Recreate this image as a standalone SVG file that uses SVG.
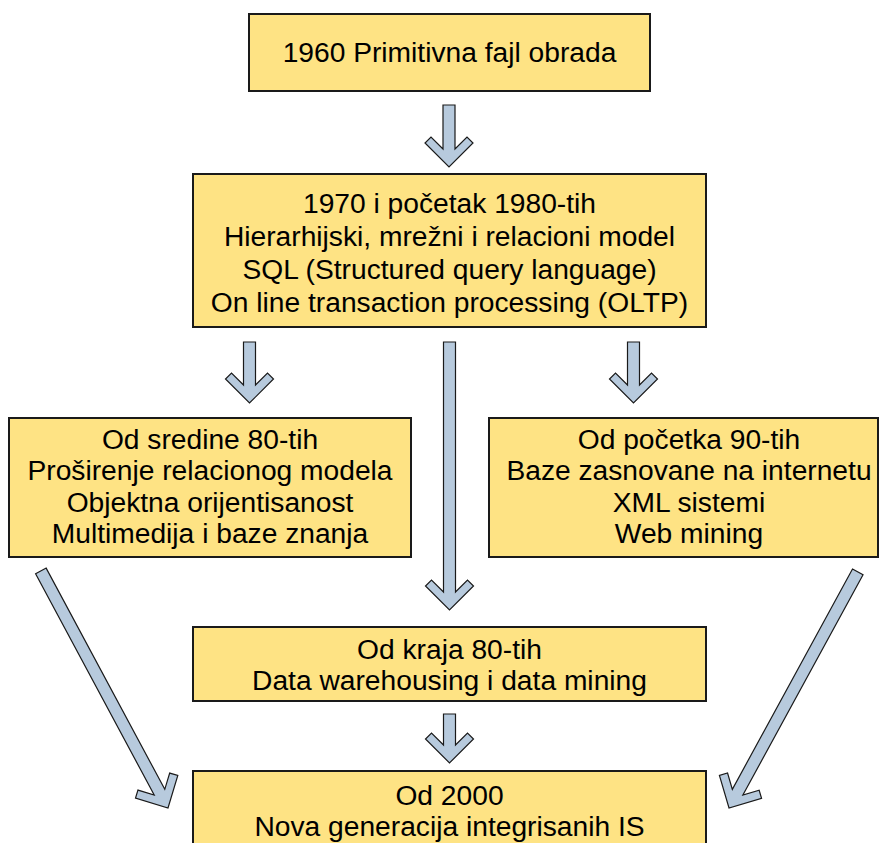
<svg xmlns="http://www.w3.org/2000/svg" width="879" height="843" viewBox="0 0 879 843">
<style>
.box{fill:#FEE384;stroke:#1a1a1a;stroke-width:2}
.t{font-family:"Liberation Sans",Arial,sans-serif;font-size:28.2px;fill:#000;text-anchor:middle}
.arr{fill:#B7CADD;stroke:#1a1a1a;stroke-width:1.2;stroke-linejoin:miter}
</style>
<rect width="879" height="843" fill="#fff"/>
<g id="connectors">
<polygon class="arr" points="443,105 455,105 455,149 467,137 473,143 449,167 425,143 431,137 443,149"/>
<polygon class="arr" points="243.5,342 255.5,342 255.5,385 267.5,373 273.5,379 249.5,403 225.5,379 231.5,373 243.5,385"/>
<polygon class="arr" points="627.5,342 639.5,342 639.5,385 651.5,373 657.5,379 633.5,403 609.5,379 615.5,373 627.5,385"/>
<polygon class="arr" points="443.5,342 455.5,342 455.5,592 467.5,580 473.5,586 449.5,610 425.5,586 431.5,580 443.5,592"/>
<polygon class="arr" points="443.5,714 455.5,714 455.5,745 467.5,733 473.5,739 449.5,763 425.5,739 431.5,733 443.5,745"/>
<polygon class="arr" transform="translate(168,808) rotate(-28.2)" points="-6,-269 6,-269 6,-18 18,-30 24,-24 0,0 -24,-24 -18,-30 -6,-18"/>
<polygon class="arr" transform="translate(729,808) rotate(28.6)" points="-6,-269 6,-269 6,-18 18,-30 24,-24 0,0 -24,-24 -18,-30 -6,-18"/>
</g>
<g id="n1">
<rect class="box" x="249" y="14" width="401" height="77"/>
<text class="t" x="449.5" y="62">1960 Primitivna fajl obrada</text>
</g>
<g id="n2">
<rect class="box" x="193" y="174" width="513" height="153"/>
<text class="t" x="449.5" y="213">1970 i početak 1980-tih</text>
<text class="t" x="449.5" y="246">Hierarhijski, mrežni i relacioni model</text>
<text class="t" x="449.5" y="279">SQL (Structured query language)</text>
<text class="t" x="449.5" y="312">On line transaction processing (OLTP)</text>
</g>
<g id="n3">
<rect class="box" x="9" y="418" width="402" height="139"/>
<text class="t" x="210" y="449">Od sredine 80-tih</text>
<text class="t" x="210" y="480">Proširenje relacionog modela</text>
<text class="t" x="210" y="512">Objektna orijentisanost</text>
<text class="t" x="210" y="543">Multimedija i baze znanja</text>
</g>
<g id="n4">
<rect class="box" x="489" y="418" width="389" height="139"/>
<text class="t" x="689" y="449">Od početka 90-tih</text>
<text class="t" x="689" y="480">Baze zasnovane na internetu</text>
<text class="t" x="689" y="512">XML sistemi</text>
<text class="t" x="689" y="543">Web mining</text>
</g>
<g id="n5">
<rect class="box" x="193" y="627" width="513" height="74"/>
<text class="t" x="449.5" y="659">Od kraja 80-tih</text>
<text class="t" x="449.5" y="690">Data warehousing i data mining</text>
</g>
<g id="n6">
<rect class="box" x="193" y="771" width="513" height="90"/>
<text class="t" x="449.5" y="805">Od 2000</text>
<text class="t" x="449.5" y="836">Nova generacija integrisanih IS</text>
</g>
</svg>
